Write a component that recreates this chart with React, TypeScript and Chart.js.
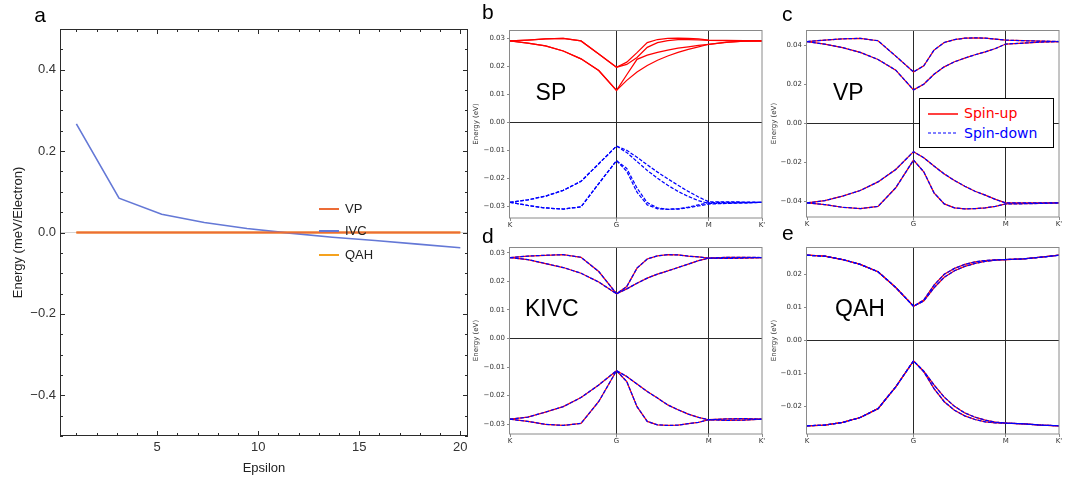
import React, { useEffect, useRef } from 'react';
import { Chart, registerables } from 'chart.js';

Chart.register(...registerables);

// ---------------- Panel a : energy vs epsilon ----------------
const epsilon = [1, 3.11, 5.22, 7.33, 9.44, 11.56, 13.67, 15.78, 17.89, 20];
const vpEnergy = [0, 0, 0, 0, 0, 0, 0, 0, 0, 0];
const ivcEnergy = [0.2667, 0.0843, 0.045, 0.0245, 0.0098, -0.0016, -0.0115, -0.0196, -0.0286, -0.0376];
const qahEnergy = [0, 0, 0, 0, 0, 0, 0, 0, 0, 0];
const aXTicks = [1, 2, 3, 4, 5, 6, 7, 8, 9, 10, 11, 12, 13, 14, 15, 16, 17, 18, 19, 20];
const aXMajor = [5, 10, 15, 20];
const aYMajor = [-0.4, -0.2, 0, 0.2, 0.4];
const aYMinor = [-0.5, -0.45, -0.35, -0.3, -0.25, -0.15, -0.1, -0.05, 0.05, 0.1, 0.15, 0.25, 0.3, 0.35, 0.45, 0.5];
const aSeriesNames = ['VP', 'IVC', 'QAH'];

// ---------------- Band structures : k path K-G-M-K' ----------------
const kPath = [0, 0.1667, 0.3333, 0.5, 0.6667, 0.8333, 1, 1.0962, 1.1925, 1.2887, 1.3849, 1.4811, 1.5774, 1.6736, 1.7698, 1.866, 2.0327, 2.1993, 2.366];
const kTickPos = [0, 1, 1.866, 2.366];
const kTickLabels = ['K', 'G', 'M', "K'"];

// SP (spin-up conduction, spin-down valence)
const spUp1 = [0.0291, 0.0294, 0.0298, 0.0300, 0.0291, 0.0244, 0.0197, 0.0215, 0.0249, 0.0285, 0.0296, 0.0300, 0.0301, 0.0300, 0.0298, 0.0294, 0.0293, 0.0292, 0.0291];
const spUp2 = [0.0291, 0.0294, 0.0298, 0.0300, 0.0291, 0.0244, 0.0197, 0.0207, 0.0232, 0.0268, 0.0285, 0.0292, 0.0296, 0.0296, 0.0295, 0.0293, 0.0292, 0.0291, 0.0291];
const spUp3 = [0.0291, 0.0283, 0.0273, 0.0255, 0.0227, 0.0185, 0.0114, 0.0170, 0.0225, 0.0240, 0.0250, 0.0258, 0.0265, 0.0270, 0.0275, 0.0279, 0.0287, 0.0290, 0.0291];
const spUp4 = [0.0291, 0.0283, 0.0273, 0.0255, 0.0227, 0.0185, 0.0114, 0.0150, 0.0180, 0.0203, 0.0222, 0.0237, 0.0250, 0.0261, 0.0270, 0.0279, 0.0286, 0.0290, 0.0291];
const spDn1 = [-0.0286, -0.0277, -0.0264, -0.0243, -0.0211, -0.0148, -0.0085, -0.0100, -0.0125, -0.0152, -0.0178, -0.0202, -0.0225, -0.0247, -0.0267, -0.0284, -0.0284, -0.0285, -0.0286];
const spDn2 = [-0.0286, -0.0277, -0.0264, -0.0243, -0.0211, -0.0148, -0.0085, -0.0108, -0.0140, -0.0172, -0.0200, -0.0225, -0.0247, -0.0265, -0.0280, -0.0290, -0.0289, -0.0288, -0.0286];
const spDn3 = [-0.0286, -0.0297, -0.0306, -0.0310, -0.0302, -0.0219, -0.0137, -0.0165, -0.0235, -0.0287, -0.0306, -0.0311, -0.0310, -0.0305, -0.0299, -0.0292, -0.0290, -0.0288, -0.0286];
const spDn4 = [-0.0286, -0.0297, -0.0306, -0.0310, -0.0302, -0.0219, -0.0137, -0.0175, -0.0250, -0.0295, -0.0309, -0.0311, -0.0309, -0.0303, -0.0295, -0.0287, -0.0286, -0.0286, -0.0286];

// VP
const vpC1 = [0.0418, 0.0425, 0.0432, 0.0434, 0.0422, 0.0343, 0.0262, 0.0293, 0.0374, 0.0413, 0.0428, 0.0435, 0.0437, 0.0435, 0.0430, 0.0425, 0.0422, 0.0420, 0.0418];
const vpC2 = [0.0418, 0.0404, 0.0387, 0.0362, 0.0326, 0.0271, 0.0170, 0.0199, 0.0250, 0.0288, 0.0314, 0.0333, 0.0350, 0.0365, 0.0382, 0.0405, 0.0410, 0.0415, 0.0418];
const vpV1 = [-0.0410, -0.0398, -0.0375, -0.0346, -0.0302, -0.0238, -0.0147, -0.0178, -0.0221, -0.0261, -0.0295, -0.0324, -0.0350, -0.0370, -0.0392, -0.0410, -0.0410, -0.0410, -0.0410];
const vpV2 = [-0.0410, -0.0418, -0.0432, -0.0439, -0.0428, -0.0332, -0.0190, -0.0250, -0.0358, -0.0415, -0.0435, -0.0440, -0.0439, -0.0435, -0.0427, -0.0415, -0.0414, -0.0412, -0.0410];

// KIVC
const kivcC1 = [0.0284, 0.0289, 0.0292, 0.0294, 0.0285, 0.0235, 0.0157, 0.0182, 0.0247, 0.0279, 0.0290, 0.0294, 0.0293, 0.0289, 0.0286, 0.0282, 0.0285, 0.0285, 0.0284];
const kivcC2 = [0.0284, 0.0277, 0.0263, 0.0249, 0.0229, 0.0198, 0.0157, 0.0174, 0.0194, 0.0212, 0.0226, 0.0237, 0.0249, 0.0261, 0.0273, 0.0282, 0.0281, 0.0282, 0.0284];
const kivcV1 = [-0.0283, -0.0276, -0.0258, -0.0239, -0.0207, -0.0163, -0.0113, -0.0133, -0.0160, -0.0186, -0.0209, -0.0233, -0.0250, -0.0265, -0.0277, -0.0285, -0.0282, -0.0281, -0.0283];
const kivcV2 = [-0.0283, -0.0291, -0.0301, -0.0305, -0.0298, -0.0221, -0.0113, -0.0151, -0.0239, -0.0291, -0.0303, -0.0305, -0.0304, -0.0299, -0.0294, -0.0285, -0.0287, -0.0286, -0.0283];

// QAH
const qahC1 = [0.0259, 0.0256, 0.0246, 0.0231, 0.0209, 0.0161, 0.0104, 0.0123, 0.0168, 0.0201, 0.0219, 0.0231, 0.0239, 0.0243, 0.0245, 0.0246, 0.0248, 0.0253, 0.0259];
const qahC2 = [0.0259, 0.0256, 0.0246, 0.0231, 0.0209, 0.0161, 0.0104, 0.0120, 0.0160, 0.0192, 0.0212, 0.0225, 0.0234, 0.0240, 0.0244, 0.0246, 0.0248, 0.0253, 0.0259];
const qahV1 = [-0.0259, -0.0257, -0.0249, -0.0234, -0.0207, -0.0141, -0.0062, -0.0095, -0.0146, -0.0186, -0.0212, -0.0229, -0.0240, -0.0247, -0.0250, -0.0251, -0.0253, -0.0257, -0.0259];
const qahV2 = [-0.0259, -0.0257, -0.0249, -0.0234, -0.0207, -0.0141, -0.0062, -0.0093, -0.0135, -0.0172, -0.0200, -0.0220, -0.0233, -0.0242, -0.0248, -0.0251, -0.0253, -0.0257, -0.0259];

const spYTicks = [-0.03, -0.02, -0.01, 0, 0.01, 0.02, 0.03];
const vpYTicks = [-0.04, -0.02, 0, 0.02, 0.04];
const kivcYTicks = [-0.03, -0.02, -0.01, 0, 0.01, 0.02, 0.03];
const qahYTicks = [-0.02, -0.01, 0, 0.01, 0.02];

// ---------------- styles ----------------
const VP_COLOR = '#EC6C36';
const IVC_COLOR = '#6478D6';
const QAH_COLOR = '#F5A21E';
const RED = '#ff0000';
const BLUE = '#0000ff';
const SPINE = '#8a8a8a';
const REFLINE = '#2a2a2a';
const TICKTXT = '#333333';
const MPL_FONT = 'DejaVu Sans';
const MMA_FONT = 'Liberation Sans, Arial, sans-serif';
const DASH = [3.6, 1.6];
const TRANSPARENT = 'rgba(0,0,0,0)';

const minus = (s: string) => s.replace('-', '\u2212');

const mplFrame = {
  id: 'mplFrame',
  afterDatasetsDraw(chart: any) {
    const { ctx, chartArea } = chart;
    const { left, top, right, bottom } = chartArea;
    ctx.save();
    ctx.strokeStyle = SPINE;
    ctx.lineWidth = 1;
    ctx.strokeRect(Math.round(left) - 0.5, Math.round(top) + 0.5, Math.round(right - left) + 0.5, Math.round(bottom - top) - 0.5);
    ctx.restore();
  },
};

const mmaFrame = {
  id: 'mmaFrame',
  afterDatasetsDraw(chart: any) {
    const { ctx, chartArea, scales } = chart;
    const { left, top, right, bottom } = chartArea;
    const x = scales.x;
    const y = scales.y;
    ctx.save();
    ctx.strokeStyle = '#2b2b2b';
    ctx.lineWidth = 1;
    ctx.strokeRect(Math.round(left) + 0.5, Math.round(top) + 0.5, Math.round(right - left) - 1, Math.round(bottom - top) - 1);
    ctx.beginPath();
    x.ticks.forEach((t: any) => {
      const px = Math.round(x.getPixelForValue(t.value)) + 0.5;
      const len = t.mj ? 5 : 3;
      ctx.moveTo(px, bottom);
      ctx.lineTo(px, bottom - len);
      ctx.moveTo(px, top);
      ctx.lineTo(px, top + len);
    });
    y.ticks.forEach((t: any) => {
      const py = Math.round(y.getPixelForValue(t.value)) + 0.5;
      const len = t.mj ? 5 : 3;
      ctx.moveTo(left, py);
      ctx.lineTo(left + len, py);
      ctx.moveTo(right, py);
      ctx.lineTo(right - len, py);
    });
    ctx.stroke();
    ctx.restore();
  },
};

function configA() {
  const series = [vpEnergy, ivcEnergy, qahEnergy];
  const colors = [VP_COLOR, IVC_COLOR, QAH_COLOR];
  const widths = [2, 1.6, 2];
  return {
    type: 'line',
    data: {
      datasets: series.map((s, si) => ({
        label: aSeriesNames[si],
        data: epsilon.map((e, i) => ({ x: e, y: s[i] })),
        borderColor: colors[si],
        borderWidth: widths[si],
        pointRadius: 0,
        tension: 0,
        fill: false,
      })),
    },
    options: {
      animation: false,
      responsive: false,
      events: [],
      layout: { padding: { top: 29, right: 12, left: 0, bottom: 0 } },
      plugins: { legend: { display: false }, tooltip: { enabled: false } },
      scales: {
        x: {
          type: 'linear',
          min: 0.19,
          max: 20.38,
          afterBuildTicks: (s: any) => {
            s.ticks = aXTicks.map((v) => ({ value: v, mj: aXMajor.includes(v) }));
          },
          afterFit: (s: any) => {
            s.height = 47;
          },
          ticks: {
            autoSkip: false,
            maxRotation: 0,
            padding: 4,
            color: TICKTXT,
            font: { family: MMA_FONT, size: 13 },
            callback: (v: number, i: number, ticks: any[]) => (ticks[i].mj ? String(v) : ''),
          },
          grid: { display: true, drawOnChartArea: false, drawTicks: false },
          border: { display: false },
          title: {
            display: true,
            text: 'Epsilon',
            color: '#222',
            font: { family: MMA_FONT, size: 13 },
            padding: { top: 0, bottom: 7.2 },
          },
        },
        y: {
          type: 'linear',
          min: -0.5,
          max: 0.5,
          afterBuildTicks: (s: any) => {
            const all = [
              ...aYMajor.map((v) => ({ value: v, mj: true })),
              ...aYMinor.map((v) => ({ value: v, mj: false })),
            ];
            all.sort((p, q) => p.value - q.value);
            s.ticks = all;
          },
          afterFit: (s: any) => {
            s.width = 60;
          },
          ticks: {
            autoSkip: false,
            padding: 4,
            color: TICKTXT,
            font: { family: MMA_FONT, size: 13 },
            callback: (v: number, i: number, ticks: any[]) => (ticks[i].mj ? minus(v.toFixed(1)) : ''),
          },
          grid: {
            drawTicks: false,
            color: (c: any) => (c.tick && c.tick.value === 0 ? '#d4d4d4' : TRANSPARENT),
            lineWidth: 1,
          },
          border: { display: false },
          title: {
            display: true,
            text: 'Energy (meV/Electron)',
            color: '#222',
            font: { family: MMA_FONT, size: 13 },
            padding: { top: 10.2, bottom: 0 },
          },
        },
      },
    },
    plugins: [mmaFrame],
  };
}

type Band = { data: number[]; color: string; dashed: boolean };

function bandConfig(p: {
  bands: Band[];
  yMin: number;
  yMax: number;
  yTicks: number[];
  yAxisWidth: number;
  titlePad: number;
  padTop: number;
  padRight: number;
}) {
  return {
    type: 'line',
    data: {
      datasets: p.bands.map((b) => ({
        data: kPath.map((k, i) => ({ x: k, y: b.data[i] })),
        borderColor: b.color,
        borderWidth: 1.25,
        borderDash: b.dashed ? DASH : [],
        pointRadius: 0,
        tension: 0,
        fill: false,
        order: b.dashed ? 0 : 1,
      })),
    },
    options: {
      animation: false,
      responsive: false,
      events: [],
      layout: { padding: { top: p.padTop, right: p.padRight, left: 0, bottom: 0 } },
      plugins: { legend: { display: false }, tooltip: { enabled: false } },
      scales: {
        x: {
          type: 'linear',
          min: kTickPos[0],
          max: kTickPos[3],
          afterBuildTicks: (s: any) => {
            s.ticks = kTickPos.map((v) => ({ value: v }));
          },
          afterFit: (s: any) => {
            s.height = 14;
          },
          ticks: {
            autoSkip: false,
            maxRotation: 0,
            padding: 0,
            color: TICKTXT,
            font: { family: MPL_FONT, size: 7 },
            callback: (v: number, i: number) => kTickLabels[i],
          },
          grid: {
            color: (c: any) =>
              c.tick && (c.tick.value === kTickPos[1] || c.tick.value === kTickPos[2]) ? REFLINE : TRANSPARENT,
            tickColor: SPINE,
            tickLength: 3,
            lineWidth: 1,
          },
          border: { display: false },
        },
        y: {
          type: 'linear',
          min: p.yMin,
          max: p.yMax,
          afterBuildTicks: (s: any) => {
            s.ticks = p.yTicks.map((v) => ({ value: v }));
          },
          afterFit: (s: any) => {
            s.width = p.yAxisWidth;
          },
          ticks: {
            autoSkip: false,
            padding: 2,
            color: TICKTXT,
            font: { family: MPL_FONT, size: 7 },
            callback: (v: number) => minus(v.toFixed(2)),
          },
          grid: {
            color: (c: any) => (c.tick && c.tick.value === 0 ? REFLINE : TRANSPARENT),
            tickColor: SPINE,
            tickLength: 3,
            lineWidth: 1,
          },
          border: { display: false },
          title: {
            display: true,
            text: 'Energy (eV)',
            color: TICKTXT,
            font: { family: MPL_FONT, size: 7 },
            padding: { top: p.titlePad, bottom: 0 },
          },
        },
      },
    },
    plugins: [mplFrame],
  };
}

const both = (arrs: number[][]): Band[] => [
  ...arrs.map((d) => ({ data: d, color: RED, dashed: false })),
  ...arrs.map((d) => ({ data: d, color: BLUE, dashed: true })),
];

type Rect = { left: number; top: number; width: number; height: number };

function ChartBox({ rect, makeConfig }: { rect: Rect; makeConfig: () => any }) {
  const ref = useRef<HTMLCanvasElement>(null);
  useEffect(() => {
    const chart = new Chart(ref.current as HTMLCanvasElement, makeConfig());
    return () => chart.destroy();
  }, []);
  return (
    <canvas
      ref={ref}
      width={rect.width}
      height={rect.height}
      style={{ position: 'absolute', left: rect.left, top: rect.top, width: rect.width, height: rect.height }}
    />
  );
}

function Txt(props: { text: string; left: number; top: number; size: number; family: string; color?: string }) {
  return (
    <div
      style={{
        position: 'absolute',
        left: props.left,
        top: props.top,
        fontSize: props.size,
        lineHeight: `${props.size}px`,
        fontFamily: props.family,
        color: props.color || '#000',
        whiteSpace: 'nowrap',
      }}
    >
      {props.text}
    </div>
  );
}

function LegendLine({ left, top, width, color, w, dash }: { left: number; top: number; width: number; color: string; w: number; dash?: string }) {
  return (
    <svg style={{ position: 'absolute', left, top: top - 2, width, height: 4, overflow: 'visible' }}>
      <line x1={0} y1={2} x2={width} y2={2} stroke={color} strokeWidth={w} strokeDasharray={dash} />
    </svg>
  );
}

export default function App() {
  const aColors = [VP_COLOR, IVC_COLOR, QAH_COLOR];
  const aLegendY = [208.5, 230.8, 254.8];
  return (
    <div style={{ position: 'absolute', left: 0, top: 0, width: 1067, height: 483, overflow: 'hidden', background: '#fff' }}>
      <ChartBox rect={{ left: 0, top: 0, width: 480, height: 483 }} makeConfig={configA} />
      <ChartBox
        rect={{ left: 466, top: 20, width: 300, height: 212 }}
        makeConfig={() =>
          bandConfig({
            bands: [
              ...[spUp1, spUp2, spUp3, spUp4].map((d) => ({ data: d, color: RED, dashed: false })),
              ...[spDn1, spDn2, spDn3, spDn4].map((d) => ({ data: d, color: BLUE, dashed: true })),
            ],
            yMin: -0.0342,
            yMax: 0.033,
            yTicks: spYTicks,
            yAxisWidth: 44,
            titlePad: 6.3,
            padTop: 10,
            padRight: 4,
          })
        }
      />
      <ChartBox
        rect={{ left: 768, top: 20, width: 296, height: 211 }}
        makeConfig={() =>
          bandConfig({
            bands: both([vpC1, vpC2, vpV1, vpV2]),
            yMin: -0.0482,
            yMax: 0.0477,
            yTicks: vpYTicks,
            yAxisWidth: 39,
            titlePad: 1.8,
            padTop: 10,
            padRight: 5,
          })
        }
      />
      <ChartBox
        rect={{ left: 466, top: 237, width: 300, height: 211 }}
        makeConfig={() =>
          bandConfig({
            bands: both([kivcC1, kivcC2, kivcV1, kivcV2]),
            yMin: -0.0335,
            yMax: 0.0321,
            yTicks: kivcYTicks,
            yAxisWidth: 44,
            titlePad: 6.3,
            padTop: 10,
            padRight: 4,
          })
        }
      />
      <ChartBox
        rect={{ left: 768, top: 237, width: 296, height: 211 }}
        makeConfig={() =>
          bandConfig({
            bands: both([qahC1, qahC2, qahV1, qahV2]),
            yMin: -0.0284,
            yMax: 0.0284,
            yTicks: qahYTicks,
            yAxisWidth: 39,
            titlePad: 1.8,
            padTop: 10,
            padRight: 5,
          })
        }
      />

      {/* panel a legend */}
      {aSeriesNames.map((n, i) => (
        <React.Fragment key={n}>
          <LegendLine left={319} top={aLegendY[i]} width={20} color={aColors[i]} w={2} />
          <Txt text={n} left={345} top={aLegendY[i] - 6.4} size={13} family={MMA_FONT} color="#222" />
        </React.Fragment>
      ))}

      {/* panel c legend */}
      <div
        style={{
          position: 'absolute',
          left: 919,
          top: 97.5,
          width: 133,
          height: 48,
          border: '1px solid #000',
          background: '#fff',
        }}
      />
      <LegendLine left={928.3} top={114} width={30} color={RED} w={1.5} />
      <LegendLine left={928.3} top={133.3} width={30} color={BLUE} w={1.2} dash="3,2" />
      <Txt text="Spin-up" left={964} top={105.8} size={14} family={MPL_FONT} color={RED} />
      <Txt text="Spin-down" left={964} top={125.8} size={14} family={MPL_FONT} color={BLUE} />

      {/* state names */}
      <Txt text="SP" left={535.6} top={80.5} size={23} family={MMA_FONT} />
      <Txt text="VP" left={833} top={80.5} size={23} family={MMA_FONT} />
      <Txt text="KIVC" left={525} top={296.8} size={23} family={MMA_FONT} />
      <Txt text="QAH" left={835} top={296.5} size={23} family={MMA_FONT} />

      {/* panel letters */}
      <Txt text="a" left={34.2} top={4} size={21} family={MMA_FONT} />
      <Txt text="b" left={482} top={0.5} size={21} family={MMA_FONT} />
      <Txt text="c" left={782} top={2.9} size={21} family={MMA_FONT} />
      <Txt text="d" left={482} top={224.5} size={21} family={MMA_FONT} />
      <Txt text="e" left={782} top={222.2} size={21} family={MMA_FONT} />
    </div>
  );
}
